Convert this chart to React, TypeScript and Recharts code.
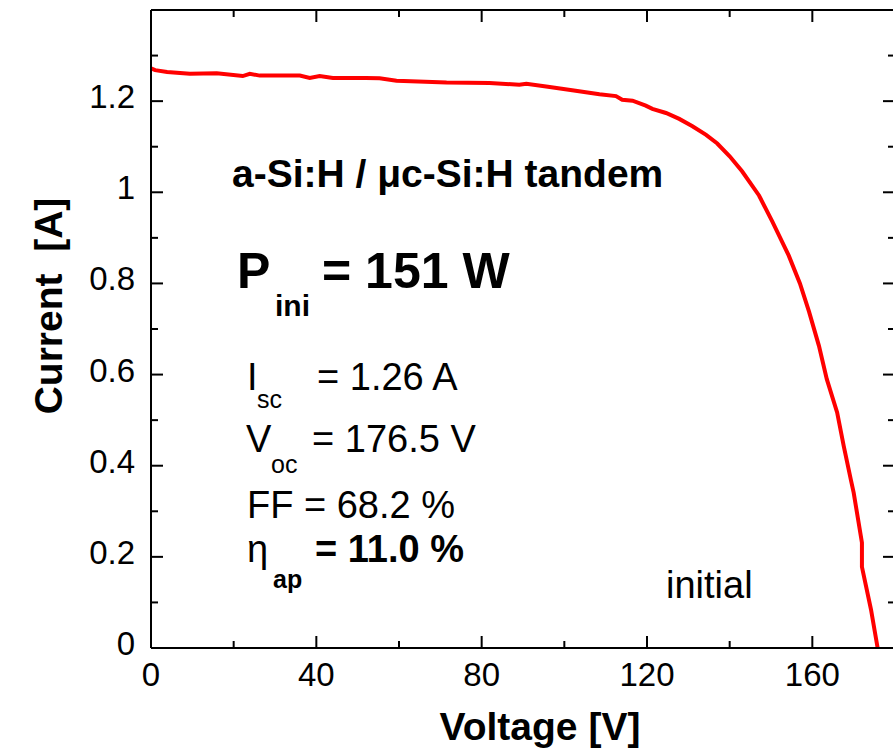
import React from 'react';
import { Line, LineChart, XAxis, YAxis } from 'recharts';

// I-V curve
const voltage = [
  0, 1, 3.9, 9.4, 15.9, 22.2, 23.9, 26.3, 36, 38.4, 40.8, 44, 52, 55.3, 59.4, 71.5, 81.9, 89.1,
  90.8, 95.6, 101.9, 108.5, 112.5, 114, 116.5, 119.7, 121.3, 124.6, 127.8, 131, 134.3, 137,
  140, 143, 147.1, 150.3, 154.3, 157, 159.2, 161.6, 163.5, 166, 167.6, 169.3, 170, 172, 172,
  174.2, 175.8,
];
const current = [
  1.272, 1.268, 1.264, 1.26, 1.261, 1.255, 1.26, 1.256, 1.256, 1.251, 1.255, 1.251, 1.251, 1.25,
  1.245, 1.241, 1.24, 1.236, 1.238, 1.232, 1.224, 1.215, 1.211, 1.203, 1.201, 1.19, 1.183, 1.174,
  1.161, 1.145, 1.126, 1.107, 1.079, 1.046, 0.993, 0.936, 0.861, 0.8, 0.738, 0.663, 0.59, 0.517,
  0.443, 0.37, 0.341, 0.231, 0.178, 0.084, 0,
];

const xTicks = [0, 20, 40, 60, 80, 100, 120, 140, 160, 180];
const yTicks = [0, 0.1, 0.2, 0.3, 0.4, 0.5, 0.6, 0.7, 0.8, 0.9, 1, 1.1, 1.2, 1.3, 1.4];
const yLabelled = [0, 0.2, 0.4, 0.6, 0.8, 1, 1.2];
const xLabelled = [0, 40, 80, 120, 160];

const ivData = voltage.map((v, i) => ({ voltage: v, current: current[i] }));

const FONT = '"Liberation Sans", Arial, sans-serif';
const MAJOR = 12;
const MINOR = 7;

const isMajorX = (v: number) => v % 40 === 0;
const isMajorY = (v: number) => Math.round(v * 10) % 2 === 0;

const BottomTick = ({ x, y, payload }: any) => {
  const major = isMajorX(payload.value);
  return (
    <g>
      <line x1={x} y1={y} x2={x} y2={y - (major ? MAJOR : MINOR)} stroke="#000" strokeWidth={2} />
      {xLabelled.includes(payload.value) && (
        <text x={x} y={y + 38} textAnchor="middle" fontSize={33} fontFamily={FONT} fill="#000">
          {payload.value}
        </text>
      )}
    </g>
  );
};

const TopTick = ({ x, y, payload }: any) => {
  const major = isMajorX(payload.value);
  return <line x1={x} y1={y} x2={x} y2={y + (major ? MAJOR : MINOR)} stroke="#000" strokeWidth={2} />;
};

const LeftTick = ({ x, y, payload }: any) => {
  const major = isMajorY(payload.value);
  return (
    <g>
      <line x1={x} y1={y} x2={x + (major ? MAJOR : MINOR)} y2={y} stroke="#000" strokeWidth={2} />
      {yLabelled.includes(payload.value) && (
        <text x={x - 16} y={y + 7} textAnchor="end" fontSize={33} fontFamily={FONT} fill="#000">
          {String(payload.value)}
        </text>
      )}
    </g>
  );
};

const RightTick = ({ x, y, payload }: any) => {
  const major = isMajorY(payload.value);
  return <line x1={x} y1={y} x2={x - (major ? MAJOR : MINOR)} y2={y} stroke="#000" strokeWidth={2} />;
};

const axisLine = { stroke: '#000', strokeWidth: 2 };

export default function App() {
  return (
    <div style={{ position: 'absolute', left: 0, top: 0 }}>
      <LineChart
        width={893}
        height={748}
        data={ivData}
        margin={{ top: 9, left: 150, right: -3, bottom: 99 }}
      >
        <XAxis
          xAxisId="bottom"
          dataKey="voltage"
          type="number"
          domain={[0, 180]}
          ticks={xTicks}
          interval={0}
          height={1}
          tickSize={0}
          tickMargin={0}
          tickLine={false}
          axisLine={axisLine}
          tick={BottomTick}
        />
        <XAxis
          xAxisId="top"
          orientation="top"
          dataKey="voltage"
          type="number"
          domain={[0, 180]}
          ticks={xTicks}
          interval={0}
          height={1}
          tickSize={0}
          tickMargin={0}
          tickLine={false}
          axisLine={axisLine}
          tick={TopTick}
        />
        <YAxis
          yAxisId="left"
          type="number"
          domain={[0, 1.4]}
          ticks={yTicks}
          interval={0}
          width={1}
          tickSize={0}
          tickMargin={0}
          tickLine={false}
          axisLine={axisLine}
          tick={LeftTick}
        />
        <YAxis
          yAxisId="right"
          orientation="right"
          type="number"
          domain={[0, 1.4]}
          ticks={yTicks}
          interval={0}
          width={1}
          tickSize={0}
          tickMargin={0}
          tickLine={false}
          axisLine={axisLine}
          tick={RightTick}
        />
        {/* hidden copy so the top / right frame axes get drawn */}
        <Line
          xAxisId="top"
          yAxisId="right"
          dataKey="current"
          stroke="none"
          dot={false}
          activeDot={false}
          legendType="none"
          isAnimationActive={false}
        />
        <Line
          xAxisId="bottom"
          yAxisId="left"
          dataKey="current"
          type="linear"
          stroke="#ff0000"
          strokeWidth={4}
          dot={false}
          isAnimationActive={false}
        />

        <g fontFamily={FONT} fill="#000">
          <text x={540} y={740} textAnchor="middle" fontSize={39} fontWeight="bold">
            Voltage [V]
          </text>
          <text
            x={62}
            y={306}
            transform="rotate(-90 62 306)"
            textAnchor="middle"
            fontSize={39}
            fontWeight="bold"
            style={{ whiteSpace: 'pre' }}
          >
            Current  [A]
          </text>

          <text x={232} y={187} fontSize={39} fontWeight="bold">
            a-Si:H / μc-Si:H tandem
          </text>

          <text x={237} y={288} fontSize={50} fontWeight="bold">P</text>
          <text x={275} y={316} fontSize={30} fontWeight="bold">ini</text>
          <text x={322} y={288} fontSize={50} fontWeight="bold">= 151 W</text>

          <text x={247} y={390} fontSize={38}>I</text>
          <text x={257} y={408} fontSize={25}>sc</text>
          <text x={317} y={390} fontSize={38}>= 1.26 A</text>

          <text x={246} y={452} fontSize={38}>V</text>
          <text x={271} y={473} fontSize={25}>oc</text>
          <text x={312} y={452} fontSize={38}>= 176.5 V</text>

          <text x={247} y={518} fontSize={38}>FF = 68.2 %</text>

          <text x={247} y={562} fontSize={38}>η</text>
          <text x={273} y={588} fontSize={25} fontWeight="bold">ap</text>
          <text x={315} y={562} fontSize={38} fontWeight="bold">= 11.0 %</text>

          <text x={666} y={598} fontSize={38}>initial</text>
        </g>
      </LineChart>
    </div>
  );
}
